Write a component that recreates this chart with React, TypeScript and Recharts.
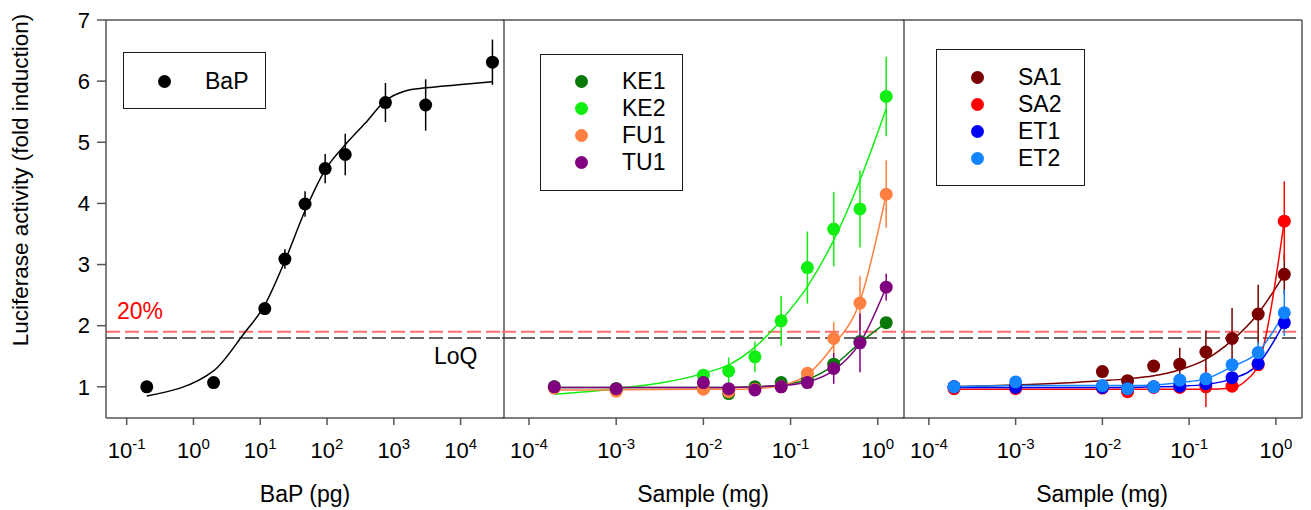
import React from "react";
import { ComposedChart, Scatter, Line, XAxis, YAxis, ErrorBar, ReferenceLine, Legend } from "recharts";

const FONT = '"Liberation Sans", Arial, Helvetica, sans-serif';
const FRAME = "#555";

// shared y axis
const yTicks = [1, 2, 3, 4, 5, 6, 7];
const yDomain: [number, number] = [0.49, 7];

// panel 1: BaP standard
const bapTicks = [0.1, 1, 10, 100, 1000, 10000];
const bapExps = ["-1", "0", "1", "2", "3", "4"];
const bapDomain: [number, number] = [0.049, 44700];
const bapDose = [0.2, 2, 11.7, 23.4, 46.9, 93.8, 187.5, 750, 3000, 30000];
const bapMean = [1.0, 1.07, 2.28, 3.09, 3.99, 4.57, 4.8, 5.65, 5.61, 6.31];
const bapSd = [0.03, 0.04, 0.1, 0.16, 0.21, 0.24, 0.34, 0.32, 0.42, 0.37];
const bapFitDose = [0.2, 2, 5.6, 11.7, 23.4, 46.9, 93.8, 187.5, 372, 750, 1480, 3000, 9300, 30000];
const bapFit = [0.85, 1.26, 1.86, 2.34, 3.06, 3.88, 4.55, 4.96, 5.31, 5.68, 5.84, 5.89, 5.94, 5.99];

// panels 2 and 3: samples
const sampleTicks = [0.0001, 0.001, 0.01, 0.1, 1];
const sampleExps = ["-4", "-3", "-2", "-1", "0"];
const sampleDomain: [number, number] = [0.000049, 2.0];
const sampleMg = [0.000195, 0.001, 0.01, 0.0195, 0.039, 0.078, 0.156, 0.3125, 0.625, 1.25];

const ke1Mean = [1.0, 0.97, 0.97, 0.89, 1.0, 1.07, 1.12, 1.37, 1.74, 2.05];
const ke1Sd = [0.02, 0.02, 0.03, 0.04, 0.03, 0.04, 0.05, 0.08, 0.1, 0.06];
const ke1Fit = [0.99, 0.99, 0.99, 0.99, 1.0, 1.03, 1.12, 1.35, 1.72, 2.05];

const ke2Mean = [1.0, 0.97, 1.19, 1.26, 1.49, 2.08, 2.95, 3.58, 3.91, 5.75];
const ke2Sd = [0.03, 0.03, 0.06, 0.22, 0.25, 0.41, 0.59, 0.61, 0.63, 0.65];
const ke2Fit = [0.88, 0.97, 1.22, 1.36, 1.65, 2.09, 2.64, 3.4, 4.38, 5.55];

const fu1Mean = [0.98, 0.93, 0.96, 0.92, 0.96, 1.0, 1.22, 1.79, 2.37, 4.15];
const fu1Sd = [0.02, 0.02, 0.03, 0.03, 0.03, 0.04, 0.08, 0.27, 0.44, 0.55];
const fu1Fit = [0.95, 0.95, 0.96, 0.96, 0.97, 1.02, 1.2, 1.68, 2.4, 4.15];

const tu1Mean = [1.0, 0.97, 1.07, 0.97, 0.95, 1.0, 1.07, 1.3, 1.72, 2.63];
const tu1Sd = [0.02, 0.02, 0.04, 0.03, 0.03, 0.04, 0.08, 0.25, 0.48, 0.22];
const tu1Fit = [0.99, 0.99, 0.99, 0.99, 1.0, 1.02, 1.08, 1.27, 1.72, 2.63];

const sa1Mean = [1.0, 1.02, 1.25, 1.1, 1.34, 1.37, 1.57, 1.79, 2.19, 2.84];
const sa1Sd = [0.02, 0.03, 0.04, 0.04, 0.04, 0.27, 0.35, 0.5, 0.48, 0.33];
const sa1Fit = [1.0, 1.03, 1.1, 1.13, 1.18, 1.28, 1.45, 1.76, 2.2, 2.84];

const sa2Mean = [0.97, 0.97, 0.98, 0.92, 0.99, 0.99, 1.0, 1.01, 1.36, 3.71];
const sa2Sd = [0.02, 0.02, 0.03, 0.04, 0.03, 0.04, 0.33, 0.05, 0.1, 0.65];
const sa2FitMg = [0.000195, 0.001, 0.01, 0.0195, 0.039, 0.078, 0.156, 0.3125, 0.45, 0.625, 1.25];
const sa2Fit = [0.96, 0.96, 0.96, 0.96, 0.96, 0.96, 0.96, 0.98, 1.1, 1.36, 3.71];

const et1Mean = [1.0, 0.99, 0.99, 0.97, 1.0, 1.01, 1.05, 1.15, 1.38, 2.05];
const et1Sd = [0.02, 0.02, 0.02, 0.03, 0.03, 0.03, 0.05, 0.05, 0.1, 0.1];
const et1Fit = [0.99, 0.99, 0.99, 0.99, 1.0, 1.01, 1.04, 1.13, 1.37, 2.05];

const et2Mean = [1.0, 1.08, 1.02, 0.97, 1.0, 1.11, 1.13, 1.36, 1.56, 2.21];
const et2Sd = [0.02, 0.04, 0.03, 0.03, 0.03, 0.04, 0.05, 0.06, 0.17, 0.38];
const et2Fit = [1.0, 1.02, 1.02, 1.02, 1.03, 1.07, 1.13, 1.33, 1.57, 2.21];

const pts = (xs: number[], ys: number[], sd?: number[]) =>
  xs.map((x, i) => ({ x, y: ys[i], err: sd ? sd[i] : 0 }));

type Series = { name: string; color: string; points: any[]; fit: any[] };

const panel1: Series[] = [
  { name: "BaP", color: "#000000", points: pts(bapDose, bapMean, bapSd), fit: pts(bapFitDose, bapFit) },
];
const panel2: Series[] = [
  { name: "KE1", color: "#087808", points: pts(sampleMg, ke1Mean, ke1Sd), fit: pts(sampleMg, ke1Fit) },
  { name: "KE2", color: "#11ee11", points: pts(sampleMg, ke2Mean, ke2Sd), fit: pts(sampleMg, ke2Fit) },
  { name: "FU1", color: "#ff8040", points: pts(sampleMg, fu1Mean, fu1Sd), fit: pts(sampleMg, fu1Fit) },
  { name: "TU1", color: "#800080", points: pts(sampleMg, tu1Mean, tu1Sd), fit: pts(sampleMg, tu1Fit) },
];
const panel3: Series[] = [
  { name: "SA1", color: "#7a0000", points: pts(sampleMg, sa1Mean, sa1Sd), fit: pts(sampleMg, sa1Fit) },
  { name: "SA2", color: "#ff0000", points: pts(sampleMg, sa2Mean, sa2Sd), fit: pts(sa2FitMg, sa2Fit) },
  { name: "ET1", color: "#0000f5", points: pts(sampleMg, et1Mean, et1Sd), fit: pts(sampleMg, et1Fit) },
  { name: "ET2", color: "#1485ff", points: pts(sampleMg, et2Mean, et2Sd), fit: pts(sampleMg, et2Fit) },
];

function LogTick(props: any) {
  const { x, y, payload, ticks, exps } = props;
  const i = ticks.findIndex((t: number) => Math.abs(Math.log10(t) - Math.log10(payload.value)) < 1e-6);
  return (
    <text x={x} y={y + 31} textAnchor="middle" fontSize={22} fontFamily={FONT} fill="#000">
      <tspan>10</tspan>
      <tspan fontSize={15} dy={-9}>{exps[i]}</tspan>
    </text>
  );
}

function makeLegend(names: string[], rowTop: number, rowGap: number) {
  return function LegendBox(props: any) {
    const items = (props.payload ?? [])
      .filter((it: any) => it.type !== "none" && names.includes(it.value))
      .sort((a: any, b: any) => names.indexOf(a.value) - names.indexOf(b.value));
    return (
      <div
        style={{
          position: "relative",
          width: "100%",
          height: "100%",
          boxSizing: "border-box",
          border: "1.5px solid #1a1a1a",
          background: "#fff",
        }}
      >
        {items.map((item: any, i: number) => (
          <div key={item.value} style={{ position: "absolute", left: 0, top: rowTop + i * rowGap - 13, height: 26, width: "100%" }}>
            <span
              style={{ position: "absolute", left: 34, top: 6.5, width: 13, height: 13, borderRadius: "50%", background: item.color }}
            />
            <span style={{ position: "absolute", left: 81, top: 0, fontSize: 23, lineHeight: "26px", fontFamily: FONT, color: "#000" }}>
              {item.value}
            </span>
          </div>
        ))}
      </div>
    );
  };
}

type PanelProps = {
  left: number;
  width: number;
  margin: { top: number; right: number; bottom: number; left: number };
  xDomain: [number, number];
  xTicks: number[];
  xExps: string[];
  xTitle: string;
  series: Series[];
  legend: { left: number; top: number; width: number; height: number; rowTop: number; rowGap: number };
  first?: boolean;
  last?: boolean;
};

function Panel(p: PanelProps) {
  const LegendBox = makeLegend(
    p.series.map((s) => s.name),
    p.legend.rowTop,
    p.legend.rowGap
  );
  return (
    <div style={{ position: "absolute", left: p.left, top: 0 }}>
      <ComposedChart width={p.width} height={510} margin={p.margin}>
        <XAxis
          xAxisId="b"
          dataKey="x"
          type="number"
          scale="log"
          domain={p.xDomain}
          allowDataOverflow
          ticks={p.xTicks}
          interval={0}
          height={92}
          tickSize={7}
          stroke={FRAME}
          strokeWidth={1.5}
          tick={(t: any) => <LogTick {...t} ticks={p.xTicks} exps={p.xExps} />}
          label={{
            content: (l: any) => (
              <text
                x={l.viewBox.x + l.viewBox.width / 2}
                y={l.viewBox.y + 84}
                textAnchor="middle"
                fontSize={23}
                fontFamily={FONT}
                fill="#000"
              >
                {p.xTitle}
              </text>
            ),
          }}
        />
        <XAxis
          xAxisId="t"
          orientation="top"
          type="number"
          scale="log"
          domain={p.xDomain}
          allowDataOverflow
          height={1}
          tick={false}
          tickLine={false}
          stroke={FRAME}
          strokeWidth={1.5}
        />
        {p.first ? (
          <YAxis
            yAxisId="l"
            dataKey="y"
            type="number"
            domain={yDomain}
            allowDataOverflow
            ticks={yTicks}
            width={60}
            tickSize={9}
            tickMargin={7}
            stroke={FRAME}
            strokeWidth={1.5}
            tick={{ fill: "#000", fontSize: 22, fontFamily: FONT }}
            label={{
              content: (l: any) => (
                <text
                  transform={`translate(${l.viewBox.x - 18},${l.viewBox.y + 160}) rotate(-90)`}
                  textAnchor="middle"
                  fontSize={22.5}
                  fontFamily={FONT}
                  fill="#000"
                >
                  Luciferase activity (fold induction)
                </text>
              ),
            }}
          />
        ) : (
          <YAxis
            yAxisId="l"
            dataKey="y"
            type="number"
            domain={yDomain}
            allowDataOverflow
            ticks={yTicks}
            width={1}
            mirror
            tick={false}
            axisLine={false}
            tickSize={7}
            stroke={FRAME}
            strokeWidth={1.5}
          />
        )}
        <YAxis
          yAxisId="r"
          orientation="right"
          type="number"
          domain={yDomain}
          allowDataOverflow
          ticks={yTicks}
          width={p.last ? 9 : 1}
          mirror={!p.last}
          tick={false}
          tickSize={p.last ? 8 : 7}
          stroke={FRAME}
          strokeWidth={1.5}
        />
        <ReferenceLine
          yAxisId="l"
          xAxisId="b"
          y={1.9}
          stroke="#ff6e6e"
          strokeWidth={2}
          strokeDasharray="14 5"
          label={
            p.first
              ? {
                  content: (l: any) => (
                    <text x={l.viewBox.x + 11} y={l.viewBox.y - 12.5} fontSize={23} fontFamily={FONT} fill="#ff0000">
                      20%
                    </text>
                  ),
                }
              : undefined
          }
        />
        <ReferenceLine
          yAxisId="l"
          xAxisId="b"
          y={1.8}
          stroke="#333"
          strokeWidth={1.5}
          strokeDasharray="14 5"
          label={
            p.first
              ? {
                  content: (l: any) => (
                    <text
                      x={l.viewBox.x + l.viewBox.width - 26.5}
                      y={l.viewBox.y + 26.5}
                      textAnchor="end"
                      fontSize={23}
                      fontFamily={FONT}
                      fill="#000"
                    >
                      LoQ
                    </text>
                  ),
                }
              : undefined
          }
        />
        {p.series.map((s) => (
          <Line
            key={s.name + "-fit"}
            xAxisId="b"
            yAxisId="l"
            data={s.fit}
            dataKey="y"
            name={s.name + " fit"}
            type="monotone"
            stroke={s.color}
            strokeWidth={1.5}
            dot={false}
            activeDot={false}
            legendType="none"
            isAnimationActive={false}
          />
        ))}
        {p.series.map((s) => (
          <Scatter
            key={s.name}
            name={s.name}
            xAxisId="b"
            yAxisId="l"
            data={s.points}
            dataKey="y"
            fill={s.color}
            isAnimationActive={false}
            shape={(d: any) => <circle cx={d.cx} cy={d.cy} r={6.5} fill={s.color} />}
          >
            <ErrorBar dataKey="err" direction="y" width={0} stroke={s.color} strokeWidth={1.5} />
          </Scatter>
        ))}
        <Legend
          layout="horizontal"
          verticalAlign="middle"
          align="center"
          content={<LegendBox />}
          wrapperStyle={{
            left: p.legend.left,
            top: p.legend.top,
            width: p.legend.width,
            height: p.legend.height,
          }}
        />
      </ComposedChart>
    </div>
  );
}

export default function App() {
  return (
    <div style={{ position: "absolute", left: 0, top: 0, width: 1311, height: 510, background: "#fff", fontFamily: FONT }}>
      <Panel
        first
        left={0}
        width={511}
        margin={{ top: 19, right: 7, bottom: 0, left: 46 }}
        xDomain={bapDomain}
        xTicks={bapTicks}
        xExps={bapExps}
        xTitle="BaP (pg)"
        series={panel1}
        legend={{ left: 123, top: 52, width: 143, height: 57, rowTop: 28, rowGap: 27 }}
      />
      <Panel
        left={495}
        width={416}
        margin={{ top: 19, right: 7, bottom: 0, left: 7 }}
        xDomain={sampleDomain}
        xTicks={sampleTicks}
        xExps={sampleExps}
        xTitle="Sample (mg)"
        series={panel2}
        legend={{ left: 45, top: 54, width: 143, height: 137, rowTop: 26, rowGap: 27 }}
      />
      <Panel
        last
        left={895}
        width={416}
        margin={{ top: 19, right: 0, bottom: 0, left: 7 }}
        xDomain={sampleDomain}
        xTicks={sampleTicks}
        xExps={sampleExps}
        xTitle="Sample (mg)"
        series={panel3}
        legend={{ left: 41, top: 49, width: 149, height: 137, rowTop: 27, rowGap: 27 }}
      />
    </div>
  );
}
